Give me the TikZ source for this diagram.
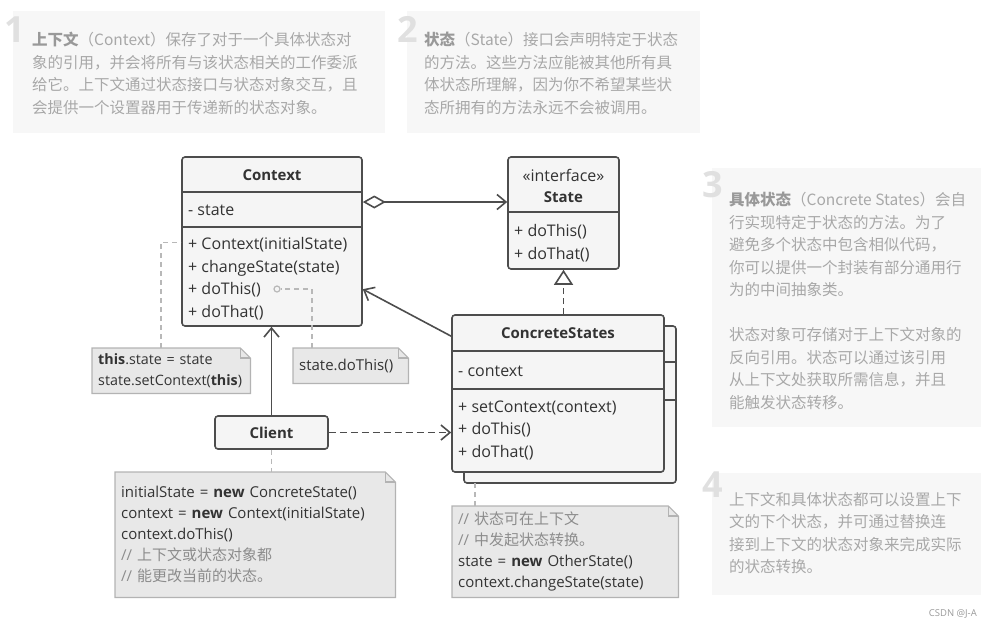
\documentclass[tikz,border=0pt]{standalone}
\usepackage{fontspec}
\setmainfont{Open Sans}
\newfontfamily\cjk{Noto Sans CJK SC}
\usetikzlibrary{arrows.meta}

\definecolor{umlline}{HTML}{4D4D4D}
\definecolor{umlfill}{HTML}{F5F5F5}
\definecolor{umltext}{HTML}{333333}
\definecolor{notefill}{HTML}{E8E8E8}
\definecolor{noteline}{HTML}{B3B3B3}
\definecolor{linkgray}{HTML}{B8B8B8}
\definecolor{commentgray}{HTML}{8C8C8C}
\definecolor{bigfill}{HTML}{F7F7F7}
\definecolor{bigtext}{HTML}{A8A8A8}
\definecolor{bighead}{HTML}{999999}
\definecolor{bignum}{HTML}{E0E0E0}

\newcommand\zh[1]{{\cjk\fontsize{15}{21}\selectfont #1}}
\newcommand\dogear[1]{%
  \fill[white] ([xshift=-10pt]#1.north east) -- (#1.north east) -- ([yshift=-10pt]#1.north east) -- cycle;
  \draw[noteline, line width=1.2pt] (#1.north west) -- ([xshift=-10pt]#1.north east) -- ([yshift=-10pt]#1.north east) -- (#1.south east) -- (#1.south west) -- cycle;
  \draw[noteline, line width=1.2pt] ([xshift=-10pt]#1.north east) |- ([yshift=-10pt]#1.north east);}

\begin{document}
\begin{tikzpicture}[x=1pt, y=-1pt,
	box/.style={draw=umlline, fill=umlfill, line width=1.6pt, rounded corners=3pt, inner sep=0pt},
	title/.style={font=\fontsize{15}{18}\selectfont\bfseries, text=umltext, inner sep=0pt},
	members/.style={font=\fontsize{16}{22.5}\selectfont, text=umltext, align=left, anchor=west, inner sep=0pt},
	sep/.style={draw=umlline, line width=1.6pt},
	assoc/.style={draw=umlline, line width=1.6pt, -{Straight Barb[length=9pt, width=15pt]}},
	aggr/.style={assoc, {Diamond[open, length=23pt, width=13pt]}-{Straight Barb[length=9pt, width=15pt]}},
	realize/.style={draw=umlline, line width=1.6pt, dash pattern=on 6pt off 4pt, -{Triangle[open, length=15pt, width=19pt]}},
	depend/.style={assoc, dash pattern=on 7pt off 4pt},
	notelink/.style={draw=linkgray, line width=1.3pt, dash pattern=on 5pt off 4pt},
	codenote/.style={fill=notefill, anchor=north west, inner xsep=6pt, inner ysep=0pt, align=left, text=umltext, font=\fontsize{15}{21}\selectfont},
	bignote/.style={fill=bigfill, anchor=north west, inner sep=0pt},
	bignum/.style={text=bignum, font=\fontsize{36}{36}\selectfont\bfseries, anchor=base west, inner sep=0pt},
	bigtxt/.style={text=bigtext, font=\cjk\fontsize{15.5}{22.5}\selectfont, align=left, anchor=north west, inner sep=0pt}]
	\useasboundingbox (0,0) rectangle (991,627);

	\node[bignote, minimum width=372, minimum height=122] (note1) at (13,11) {};
	\node[bignote, minimum width=293, minimum height=122] (note2) at (407,11) {};
	\node[bignote, minimum width=269, minimum height=259] (note3) at (712,168) {};
	\node[bignote, minimum width=269, minimum height=122] (note4) at (712,473) {};
	\node[bignum] (num1) at (4,42) {1};
	\node[bignum] (num2) at (397,42) {2};
	\node[bignum] (num3) at (702,197) {3};
	\node[bignum] (num4) at (702,497) {4};
	\node[bigtxt] (text1) at (32,32) {{\bfseries\color{bighead}上下文}（Context）保存了对于一个具体状态对\\象的引用，并会将所有与该状态相关的工作委派\\给它。上下文通过状态接口与状态对象交互，且\\会提供一个设置器用于传递新的状态对象。};
	\node[bigtxt] (text2) at (424,32) {{\bfseries\color{bighead}状态}（State）接口会声明特定于状态\\的方法。这些方法应能被其他所有具\\体状态所理解，因为你不希望某些状\\态所拥有的方法永远不会被调用。};
	\node[bigtxt] (text3) at (729,192) {{\bfseries\color{bighead}具体状态}（Concrete States）会自\\行实现特定于状态的方法。为了\\避免多个状态中包含相似代码，\\你可以提供一个封装有部分通用行\\为的中间抽象类。\\[22.5pt]状态对象可存储对于上下文对象的\\反向引用。状态可以通过该引用\\从上下文处获取所需信息，并且\\能触发状态转移。};
	\node[bigtxt] (text4) at (729,492) {上下文和具体状态都可以设置上下\\文的下个状态，并可通过替换连\\接到上下文的状态对象来完成实际\\的状态转换。};

	\node[box, minimum width=180, minimum height=169] (ctx) at (272,241.5) {};
	\draw[sep] (ctx.north west) ++(0,36) -- ++(180,0);
	\draw[sep] (ctx.north west) ++(0,71) -- ++(180,0);
	\node[title] (ctxname) at (272,175) {Context};
	\node[members] (ctxattr) at (188,210) {- state};
	\node[members] (ctxops) at (188,278.5) {+ Context(initialState)\\+ changeState(state)\\+ doThis()\\+ doThat()};

	\node[box, minimum width=111, minimum height=112] (state) at (563.5,213) {};
	\draw[sep] (state.north west) ++(0,56) -- ++(111,0);
	\node[members, anchor=center] (stateint) at (563.5,175) {«interface»};
	\node[title] (statename) at (563.5,197) {State};
	\node[members] (stateops) at (514,243) {+ doThis()\\+ doThat()};

	\node[box, minimum width=212, minimum height=157] (csback) at (570,404.5) {};
	\draw[sep] (csback.north west) ++(0,37) -- ++(212,0);
	\draw[sep] (csback.north west) ++(0,75) -- ++(212,0);
	\node[box, minimum width=212, minimum height=157] (cs) at (558,393.5) {};
	\draw[sep] (cs.north west) ++(0,37) -- ++(212,0);
	\draw[sep] (cs.north west) ++(0,75) -- ++(212,0);
	\node[title] (csname) at (558,333) {ConcreteStates};
	\node[members] (csattr) at (458,371) {- context};
	\node[members] (csops) at (458,430) {+ setContext(context)\\+ doThis()\\+ doThat()};

	\node[box, title, inner sep=0pt, minimum width=113, minimum height=33] (client) at (271.5,432.5) {Client};

	\coordinate (aggy) at (0,202);
	\draw[aggr] (ctx.east |- aggy) -- (state.west |- aggy);
	\draw[realize] (state.south |- cs.north) -- (state.south);
	\draw[assoc] ([yshift=-22pt]cs.north west) -- ([yshift=-133pt]ctx.north east);
	\draw[assoc] (client.north) -- (client.north |- ctx.south);
	\draw[depend] (client.east) -- (cs.west |- client.east);

	\node[codenote, text width=146, minimum height=45, font=\fontsize{14.3}{21}\selectfont] (setnote) at (92,348) {{\bfseries this}.state = state\\state.setContext({\bfseries this})};
	\dogear{setnote}
	\node[codenote, text width=103, minimum height=35] (donote) at (293,348) {state.doThis()};
	\dogear{donote}
	\node[codenote, text width=268, minimum height=125] (clientnote) at (115,472) {initialState = {\bfseries new} ConcreteState()\\context = {\bfseries new} Context(initialState)\\context.doThis()\\{\color{commentgray}// \zh{上下文或状态对象都}}\\{\color{commentgray}// \zh{能更改当前的状态。}}};
	\dogear{clientnote}
	\node[codenote, text width=214, minimum height=91] (csnote) at (452,506) {{\color{commentgray}// \zh{状态可在上下文}}\\{\color{commentgray}// \zh{中发起状态转换。}}\\state = {\bfseries new} OtherState()\\context.changeState(state)};
	\dogear{csnote}

	\node[draw=linkgray, circle, line width=1.2pt, minimum size=6pt, inner sep=0pt] (dotthis) at (277,289) {};
	\draw[notelink] ([xshift=69pt]setnote.north west) |- ([yshift=-86pt]ctx.north west);
	\draw[notelink] ([xshift=19pt]donote.north west) |- (dotthis.east);
	\draw[notelink] (client.south) -- (client.south |- clientnote.north);
	\draw[notelink] ([xshift=23pt]csnote.north west) -- ++(0,-23);

	\node[font=\fontsize{9.5}{11}\selectfont, text=bighead, anchor=east, inner sep=0pt] (mark) at (977,614) {CSDN @J-A};
\end{tikzpicture}
\end{document}
